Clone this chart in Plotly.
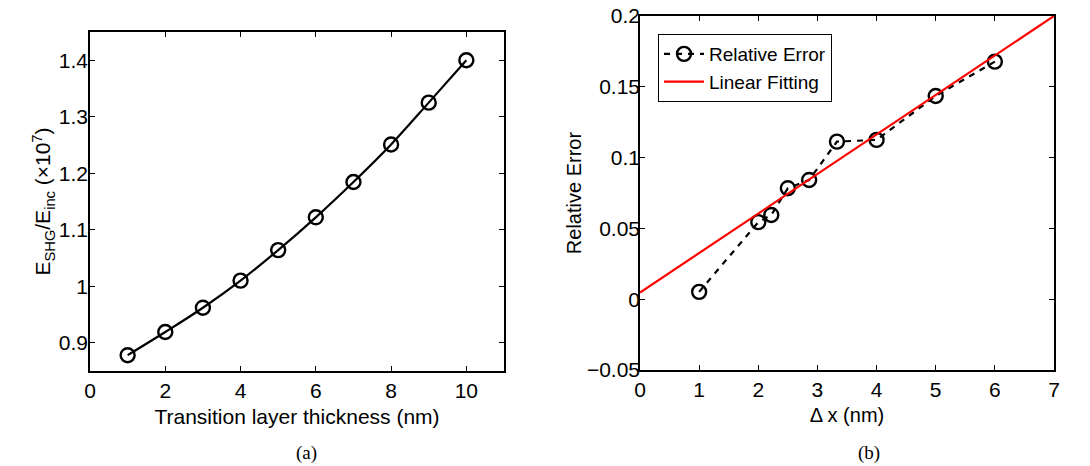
import plotly.graph_objects as go

# ---- Panel (a) data ----
thickness_nm = [1, 2, 3, 4, 5, 6, 7, 8, 9, 10]
e_ratio = [0.878, 0.919, 0.962, 1.010, 1.064, 1.122, 1.1845, 1.251, 1.325, 1.400]
a_xticks = [0, 2, 4, 6, 8, 10]
a_yticks = [0.9, 1.0, 1.1, 1.2, 1.3, 1.4]
a_yticktext = ["0.9", "1", "1.1", "1.2", "1.3", "1.4"]

# ---- Panel (b) data ----
dx_nm = [1, 2, 2.22, 2.5, 2.86, 3.33, 4, 5, 6]
rel_error = [0.0052, 0.0544, 0.0595, 0.0784, 0.0842, 0.1113, 0.1125, 0.1435, 0.1678]
fit_x = [0, 7]
fit_y = [0.0047, 0.2000]
b_xticks = [0, 1, 2, 3, 4, 5, 6, 7]
b_yticks = [-0.05, 0, 0.05, 0.1, 0.15, 0.2]
b_yticktext = ["\u22120.05", "0", "0.05", "0.1", "0.15", "0.2"]

FONT = "Liberation Sans"
W, H = 1090, 466

fig = go.Figure()

marker_style = dict(symbol="circle-open", size=14, color="black", line=dict(width=2.4))

fig.add_trace(go.Scatter(
    x=thickness_nm, y=e_ratio, mode="lines+markers",
    line=dict(color="black", width=2.2, shape="spline"),
    marker=marker_style,
    showlegend=False, xaxis="x", yaxis="y"))

fig.add_trace(go.Scatter(
    x=dx_nm, y=rel_error, mode="lines+markers", name="Relative Error",
    line=dict(color="black", width=2.2, dash="6px,6px"),
    marker=marker_style,
    xaxis="x2", yaxis="y2"))

fig.add_trace(go.Scatter(
    x=fit_x, y=fit_y, mode="lines", name="Linear Fitting",
    line=dict(color="#ff0000", width=2.2),
    xaxis="x2", yaxis="y2"))

axis_common = dict(
    showgrid=False, zeroline=False, showline=True, linecolor="black", linewidth=1.5,
    mirror="ticks", ticks="inside", ticklen=5, tickwidth=1, tickcolor="black",
    automargin=False,
    tickfont=dict(family=FONT, size=21, color="black"),
)

fig.update_layout(
    template="none",
    width=W, height=H,
    margin=dict(l=0, r=0, t=0, b=0),
    paper_bgcolor="white", plot_bgcolor="white",
    font=dict(family=FONT, color="black"),
    xaxis=dict(**axis_common, domain=[90 / W, 504 / W], range=[0, 11],
               tickvals=a_xticks, anchor="y",
               title=dict(text="Transition layer thickness (nm)",
                          font=dict(size=21), standoff=8)),
    yaxis=dict(**axis_common, domain=[1 - 371 / H, 1 - 32 / H], range=[0.85, 1.45],
               tickvals=a_yticks, ticktext=a_yticktext, anchor="x",
               ticklabelstandoff=-4,
               title=dict(text="E<sub>SHG</sub>/E<sub>inc</sub> (\u00d710<sup>7</sup>)",
                          font=dict(size=21), standoff=2)),
    xaxis2=dict(**axis_common, domain=[640 / W, 1054 / W], range=[0, 7],
                tickvals=b_xticks, anchor="y2",
                title=dict(text="\u0394 x (nm)", font=dict(size=20), standoff=8)),
    yaxis2=dict(**axis_common, domain=[1 - 370 / H, 1 - 16 / H], range=[-0.05, 0.2],
                tickvals=b_yticks, ticktext=b_yticktext, anchor="x2",
                ticklabelstandoff=-6,
                title=dict(text="Relative Error", font=dict(size=20), standoff=0)),
    legend=dict(x=658 / W, y=1 - 34 / H, xanchor="left", yanchor="top",
                bgcolor="white", bordercolor="black", borderwidth=1,
                font=dict(family=FONT, size=19, color="black"),
                itemwidth=40, tracegroupgap=0),
    annotations=[
        dict(text="(a)", x=306 / W, y=1 - 453 / H, xref="paper", yref="paper",
             xanchor="center", yanchor="middle",
             showarrow=False, font=dict(family="Liberation Serif", size=19, color="black")),
        dict(text="(b)", x=869 / W, y=1 - 453 / H, xref="paper", yref="paper",
             xanchor="center", yanchor="middle",
             showarrow=False, font=dict(family="Liberation Serif", size=19, color="black")),
    ],
)

fig.write_html("out.html")
